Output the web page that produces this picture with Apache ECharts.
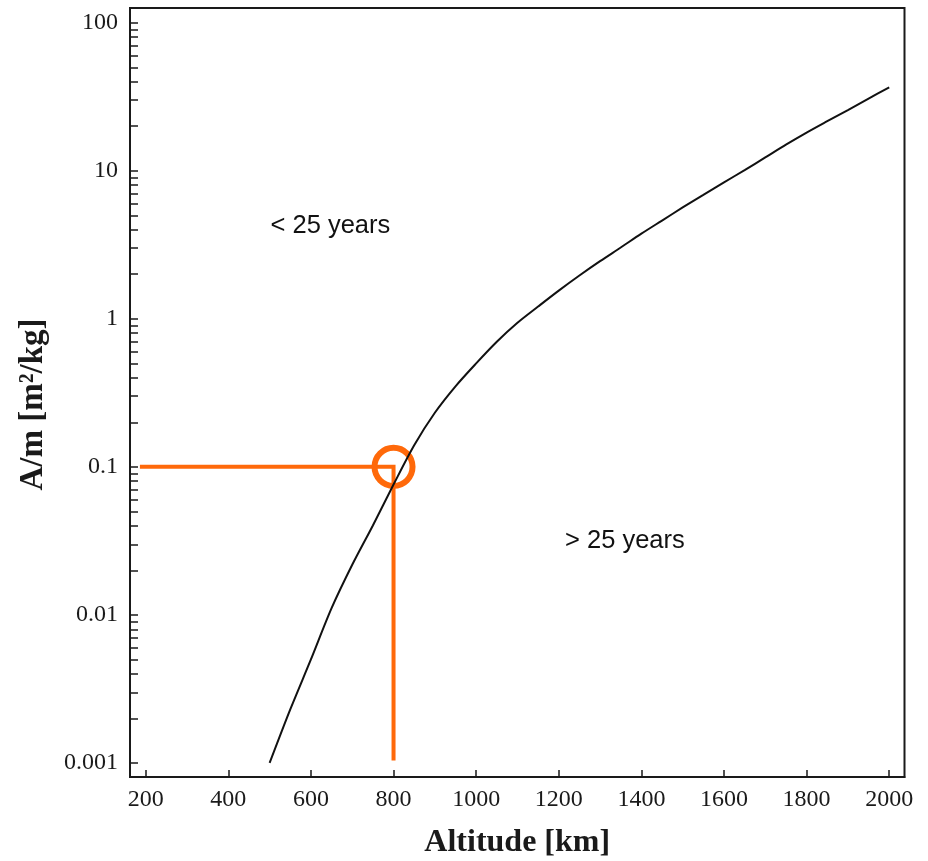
<!DOCTYPE html>
<html>
<head>
<meta charset="utf-8">
<script src="https://cdn.jsdelivr.net/npm/echarts@6/dist/echarts.min.js"></script>
<style>
  html, body { margin: 0; padding: 0; background: #fff; }
  #chart { width: 928px; height: 861px; }
</style>
</head>
<body>
<div id="chart"></div>
<script>
// Altitude samples [km] and the area-to-mass ratio [m²/kg] that gives a 25-year orbital lifetime
const altitudes = [500, 550, 600, 650, 700, 750, 800, 850, 900, 950, 1000, 1050, 1100, 1150, 1200, 1250,
                   1300, 1350, 1400, 1450, 1500, 1550, 1600, 1650, 1700, 1750, 1800, 1850, 1900, 1950, 2000];
const areaToMass = [0.001, 0.0023, 0.0050, 0.0111, 0.0218, 0.0402, 0.076, 0.140, 0.232, 0.350, 0.50, 0.70,
                    0.94, 1.21, 1.55, 1.96, 2.45, 3.03, 3.76, 4.61, 5.65, 6.87, 8.35, 10.1, 12.3, 15.0,
                    18.1, 21.6, 25.7, 30.7, 36.6];

// Worked example: 800 km altitude needs A/m = 0.1 m²/kg
const guideAltitude = [186, 800, 800];
const guideRatio = [0.1, 0.1, 0.00104];
const markedPoint = [800, 0.1];

// Axis ticks and their labels
const xTicks = [200, 400, 600, 800, 1000, 1200, 1400, 1600, 1800, 2000];
const yMajorTicks = [0.001, 0.01, 0.1, 1, 10, 100];
const yTickLabels = ['0.001', '0.01', '0.1', '1', '10', '100'];
const yMinorTicks = [];
for (let e = -3; e <= 1; e++) {
  for (let m = 1; m <= 9; m++) yMinorTicks.push(+(m * Math.pow(10, e)).toPrecision(6));
}
yMinorTicks.push(100);

const ORANGE = '#FF690A';
const INK = '#1a1a1a';
const SERIF = '"Liberation Serif", "Times New Roman", serif';
const SANS = '"Liberation Sans", Arial, sans-serif';

const chart = echarts.init(document.getElementById('chart'), null, { renderer: 'canvas' });

chart.setOption({
  animation: false,
  backgroundColor: '#fff',
  grid: {
    left: 130, right: 23.5, top: 8, bottom: 84,
    show: true, borderColor: INK, borderWidth: 2,
    outerBoundsMode: 'none'
  },
  xAxis: {
    type: 'value',
    min: 162, max: 2037,
    name: 'Altitude [km]',
    nameLocation: 'middle',
    nameGap: 50,
    nameTextStyle: { fontFamily: SERIF, fontWeight: 'bold', fontSize: 32, color: INK, lineHeight: 32 },
    axisLine: { show: true, onZero: false, lineStyle: { color: INK, width: 2 } },
    axisTick: { show: true, inside: true, length: 7, customValues: xTicks, lineStyle: { color: INK, width: 1.5 } },
    axisLabel: {
      customValues: xTicks, margin: 11, fontFamily: SERIF, fontSize: 24, color: INK,
      formatter: function (v) { return String(Math.round(v)); }
    },
    splitLine: { show: false }
  },
  yAxis: {
    type: 'log',
    min: 0.000804, max: 125.7,
    name: 'A/m [m²/kg]',
    nameLocation: 'middle',
    nameGap: 80,
    nameRotate: 90,
    nameTextStyle: { fontFamily: SERIF, fontWeight: 'bold', fontSize: 33, color: INK, lineHeight: 33, padding: [0, 24, 0, 0] },
    axisLine: { show: true, onZero: false, lineStyle: { color: INK, width: 2 } },
    axisTick: { show: true, inside: true, length: 8, customValues: yMinorTicks, lineStyle: { color: INK, width: 1.5 } },
    axisLabel: {
      customValues: yMajorTicks,
      margin: 12,
      fontFamily: SERIF, fontSize: 24, color: INK,
      formatter: function (v) {
        for (let i = 0; i < yMajorTicks.length; i++) {
          if (Math.abs(Math.log10(v) - Math.log10(yMajorTicks[i])) < 1e-6) return yTickLabels[i];
        }
        return '';
      }
    },
    minorTick: { show: false },
    splitLine: { show: false }
  },
  series: [
    {
      type: 'line',
      name: 'guide',
      data: guideAltitude.map((a, i) => [a, guideRatio[i]]),
      symbol: 'none',
      silent: true,
      lineStyle: { color: ORANGE, width: 4, join: 'miter', cap: 'butt' },
      z: 2
    },
    {
      type: 'scatter',
      name: 'marker',
      data: [markedPoint],
      symbol: 'circle',
      symbolSize: 38,
      silent: true,
      itemStyle: { color: 'rgba(0,0,0,0)', borderColor: ORANGE, borderWidth: 6, opacity: 1 },
      z: 3
    },
    {
      type: 'line',
      name: 'A/m for 25-year lifetime',
      data: altitudes.map((a, i) => [a, areaToMass[i]]),
      symbol: 'none',
      smooth: 0.3,
      silent: true,
      lineStyle: { color: '#111', width: 2 },
      z: 4
    }
  ],
  graphic: [
    {
      type: 'text', left: 270.5, top: 213, silent: true,
      style: { text: '< 25 years', font: '25.5px ' + SANS, fill: '#111' }
    },
    {
      type: 'text', left: 565, top: 528, silent: true,
      style: { text: '> 25 years', font: '25.5px ' + SANS, fill: '#111' }
    }
  ]
});
</script>
</body>
</html>
